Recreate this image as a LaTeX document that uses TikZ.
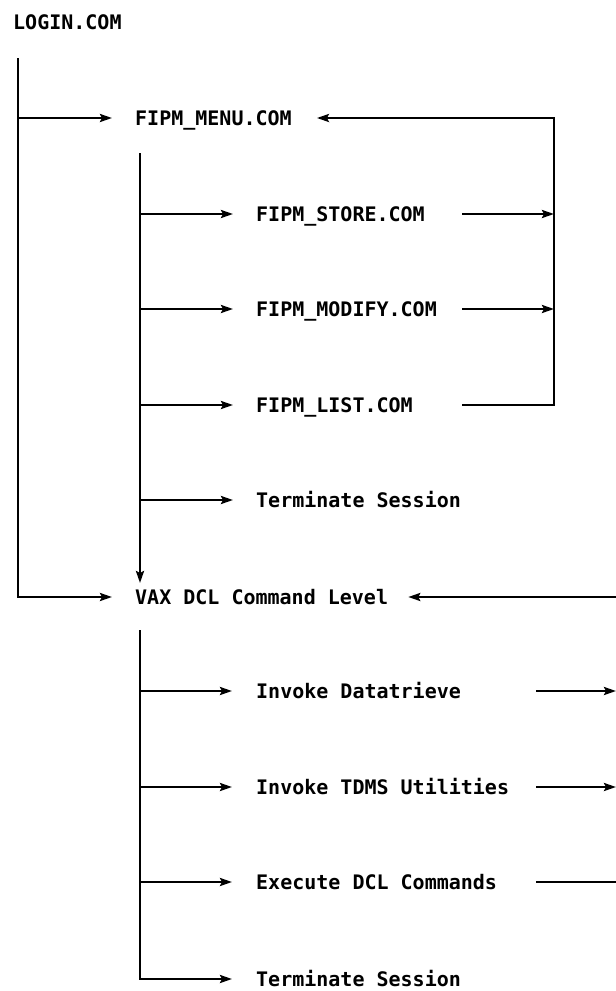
\documentclass[tikz,border=0pt]{standalone}
\usepackage{fontspec}
\setmonofont{DejaVu Sans Mono}
\usetikzlibrary{arrows.meta}

\begin{document}
\begin{tikzpicture}[x=1pt,y=-1pt]
    \tikzset{item/.style = {anchor=west, inner sep=0pt, text height=14pt, text depth=0pt,
                            font=\ttfamily\bfseries\fontsize{20}{22}\selectfont}}
    \tikzset{edge/.style = {draw, line width=2.4pt, -{Stealth[length=12pt,width=8pt,inset=2pt]}}}
    \tikzset{line/.style = {draw, line width=2.4pt}}

    \useasboundingbox (0,0) rectangle (616,991);

    % vertices
    \node[item] (login) at (13,22) {LOGIN.COM};
    \node[item] (menu) at (135,118) {FIPM\_MENU.COM};
    \node[item] (store) at (256,214) {FIPM\_STORE.COM};
    \node[item] (modify) at (256,309) {FIPM\_MODIFY.COM};
    \node[item] (list) at (256,405) {FIPM\_LIST.COM};
    \node[item] (quit) at (256,500) {Terminate Session};
    \node[item] (vax) at (135,597) {VAX DCL Command Level};
    \node[item] (dtr) at (256,691) {Invoke Datatrieve};
    \node[item] (tdms) at (256,787) {Invoke TDMS Utilities};
    \node[item] (dcl) at (256,882) {Execute DCL Commands};
    \node[item] (quit2) at (256,979) {Terminate Session};

    \coordinate (ltop) at (18,58);
    \coordinate (itop) at (140,153);
    \coordinate (ktop) at (140,630);
    \coordinate (rx) at (462,0);
    \coordinate (rv) at (554,0);
    \coordinate (kx) at (536,0);
    \coordinate (edge) at (616,0);

    % edges
    \draw [edge, shorten >=23pt] (ltop) |- (vax.west);
    \draw [edge, shorten >=23pt] (ltop |- menu) -- (menu.west);

    \draw [edge, shorten >=14pt] (itop) -- (itop |- vax);
    \draw [edge, shorten >=23pt] (itop |- store) -- (store.west);
    \draw [edge, shorten >=23pt] (itop |- modify) -- (modify.west);
    \draw [edge, shorten >=23pt] (itop |- list) -- (list.west);
    \draw [edge, shorten >=23pt] (itop |- quit) -- (quit.west);

    \draw [edge] (store -| rx) -- (store -| rv);
    \draw [edge] (modify -| rx) -- (modify -| rv);
    \draw [edge, shorten >=25pt] (list -| rx) -- (list -| rv) -- (menu -| rv) -- (menu.east);

    \draw [line] (ktop) -- (ktop |- dcl);
    \draw [edge, shorten >=24pt] (ktop |- dcl) |- (quit2.west);
    \draw [edge, shorten >=24pt] (ktop |- dtr) -- (dtr.west);
    \draw [edge, shorten >=24pt] (ktop |- tdms) -- (tdms.west);
    \draw [edge, shorten >=24pt] (ktop |- dcl) -- (dcl.west);

    \draw [edge] (dtr -| kx) -- (dtr -| edge);
    \draw [edge] (tdms -| kx) -- (tdms -| edge);
    \draw [line] (dcl -| kx) -- (dcl -| edge);
    \draw [edge, shorten >=20pt] (vax -| edge) -- (vax.east);
\end{tikzpicture}
\end{document}
